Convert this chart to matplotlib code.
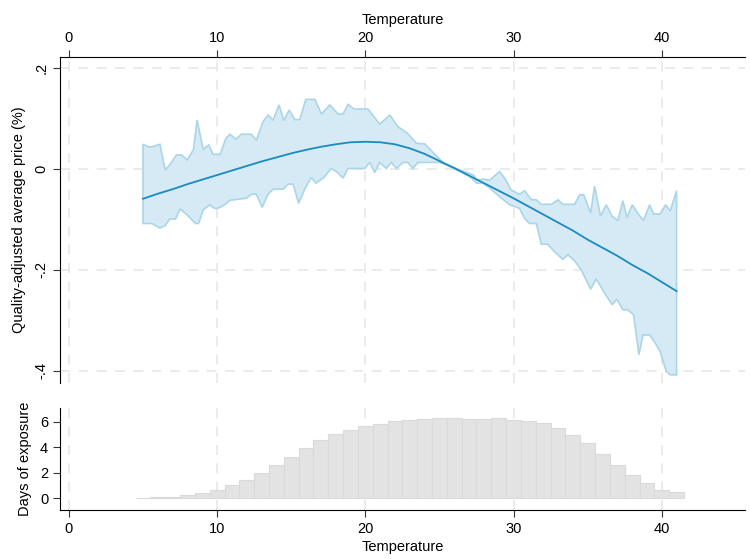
import numpy as np
import matplotlib
matplotlib.use("Agg")
import matplotlib.pyplot as plt

plt.rcParams["font.family"] = ["Liberation Sans", "DejaVu Sans"]

# fitted curve (temperature, price effect)
temp = np.arange(5, 42)
fit = [-0.059, -0.049, -0.040, -0.030, -0.021, -0.012, -0.003, 0.006, 0.015,
       0.023, 0.031, 0.038, 0.044, 0.049, 0.053, 0.054, 0.053, 0.049, 0.041,
       0.030, 0.016, 0.002, -0.013, -0.028, -0.043, -0.058, -0.074, -0.090,
       -0.106, -0.122, -0.140, -0.156, -0.172, -0.190, -0.206, -0.224, -0.242]

# confidence band, upper edge
up_x = [5.0, 5.35, 5.6, 6.14, 6.5, 6.8, 7.26, 7.6, 7.98, 8.4, 8.65, 9.06, 9.44,
        9.73, 10.2, 10.6, 10.86, 11.26, 11.64, 12.3, 12.65, 13.1, 13.44, 13.78,
        14.18, 14.5, 14.86, 15.24, 15.58, 15.98, 16.6, 17.04, 17.6, 18.16, 18.5,
        18.83, 19.24, 20.18, 20.97, 21.65, 22.2, 22.84, 23.45, 24.0, 25.3, 26.2,
        27.04, 27.3, 27.5, 27.94, 28.4, 29.06, 29.4, 29.85, 30.4, 30.75, 31.2,
        31.54, 31.87, 32.55, 33.0, 33.33, 34.12, 34.46, 34.73, 35.2, 35.47,
        35.87, 36.26, 36.66, 37.04, 37.38, 37.65, 38.01, 38.46, 38.77, 39.18,
        39.45, 39.9, 40.26, 40.57, 41.0]
up_y = [0.049, 0.044, 0.044, 0.049, -0.002, 0.008, 0.028, 0.028, 0.018, 0.038,
        0.097, 0.039, 0.048, 0.029, 0.029, 0.061, 0.069, 0.059, 0.069, 0.069,
        0.057, 0.094, 0.107, 0.097, 0.127, 0.096, 0.117, 0.098, 0.098, 0.138,
        0.138, 0.109, 0.127, 0.109, 0.109, 0.128, 0.119, 0.119, 0.089, 0.107,
        0.084, 0.071, 0.051, 0.050, 0.011, 0.000, -0.009, -0.012, -0.022,
        -0.020, -0.022, -0.005, -0.018, -0.042, -0.050, -0.043, -0.061,
        -0.061, -0.070, -0.070, -0.061, -0.070, -0.070, -0.051, -0.051,
        -0.087, -0.034, -0.093, -0.071, -0.094, -0.102, -0.063, -0.096,
        -0.071, -0.091, -0.102, -0.071, -0.089, -0.089, -0.071, -0.083, -0.043]

# confidence band, lower edge
lo_x = [5.0, 5.6, 6.14, 6.5, 6.8, 7.2, 7.5, 7.98, 8.55, 8.75, 9.06, 9.5, 9.83,
        10.05, 10.5, 10.86, 11.98, 12.3, 12.65, 13.04, 13.44, 13.78, 14.46,
        14.8, 15.12, 15.5, 15.98, 16.36, 16.66, 17.2, 17.7, 18.05, 18.5, 18.83,
        19.96, 20.3, 20.63, 20.97, 21.42, 21.76, 22.1, 22.54, 22.88, 23.2,
        23.55, 24.0, 25.0, 25.3, 26.2, 27.04, 27.5, 27.94, 28.4, 29.06, 29.74,
        30.4, 30.75, 31.08, 31.54, 31.87, 32.3, 32.77, 33.33, 33.67, 34.12,
        34.57, 35.2, 35.58, 36.14, 36.66, 36.97, 37.38, 37.7, 38.1, 38.46,
        38.73, 39.18, 39.5, 39.9, 40.3, 40.57, 41.0]
lo_y = [-0.108, -0.108, -0.117, -0.112, -0.099, -0.099, -0.079, -0.091,
        -0.108, -0.108, -0.081, -0.071, -0.078, -0.078, -0.071, -0.062,
        -0.058, -0.050, -0.050, -0.076, -0.050, -0.040, -0.040, -0.030,
        -0.030, -0.068, -0.036, -0.017, -0.028, -0.017, 0.001, -0.005,
        -0.018, 0.001, 0.001, 0.013, -0.007, 0.013, 0.001, 0.013, 0.001,
        0.013, 0.013, 0.001, 0.013, 0.013, 0.013, 0.010, -0.002, -0.015,
        -0.028, -0.028, -0.038, -0.055, -0.071, -0.078, -0.098, -0.108,
        -0.108, -0.149, -0.149, -0.164, -0.179, -0.170, -0.182, -0.200,
        -0.238, -0.218, -0.246, -0.269, -0.258, -0.279, -0.279, -0.289,
        -0.368, -0.329, -0.329, -0.342, -0.362, -0.401, -0.408, -0.408]

# days of exposure per 1-degree bin
bins = np.arange(5, 42)
days = [0.05, 0.10, 0.12, 0.26, 0.41, 0.65, 1.04, 1.43, 1.97, 2.60, 3.27, 3.93,
        4.55, 5.02, 5.33, 5.64, 5.85, 6.03, 6.11, 6.19, 6.26, 6.26, 6.19, 6.19,
        6.26, 6.11, 6.06, 5.93, 5.49, 4.94, 4.32, 3.46, 2.60, 1.82, 1.20, 0.65,
        0.50]

xticks = [0, 10, 20, 30, 40]
yticks_top = [0.2, 0, -0.2, -0.4]
ytick_labels_top = [".2", "0", "-.2", "-.4"]
yticks_bot = [0, 2, 4, 6]

line_col = "#1a8bbf"
band_fill = "#d5eaf4"
band_edge = "#a9d6e8"
grid_col = "#e8e8e8"

fig = plt.figure(figsize=(7.5, 5.59), dpi=100)
ax1 = fig.add_axes([0.08, 0.315, 0.913, 0.583])
ax2 = fig.add_axes([0.08, 0.0877, 0.913, 0.182])

xlim = (-0.6, 45.6)
fs = 10.5

# top panel
for v in xticks:
    ax1.axvline(v, color=grid_col, lw=1.2, ls=(0, (6, 5)), zorder=0)
for v in yticks_top:
    ax1.axhline(v, color=grid_col, lw=1.2, ls=(0, (6, 5)), zorder=0)
px = np.r_[up_x, lo_x[::-1]]
py = np.r_[up_y, lo_y[::-1]]
ax1.fill(px, py, facecolor=band_fill, edgecolor=band_edge, lw=1.2, zorder=1)
ax1.plot(temp, fit, color=line_col, lw=1.3, zorder=2)

ax1.set_xlim(*xlim)
ax1.set_ylim(-0.424, 0.222)
ax1.xaxis.tick_top()
ax1.xaxis.set_label_position("top")
ax1.set_xticks(xticks)
ax1.set_xlabel("Temperature", fontsize=fs, labelpad=5)
ax1.set_yticks(yticks_top)
ax1.set_yticklabels(ytick_labels_top, rotation=90, va="center")
ax1.set_ylabel("Quality-adjusted average price (%)", fontsize=fs, labelpad=6)
for s in ["right", "bottom"]:
    ax1.spines[s].set_visible(False)
ax1.tick_params(labelsize=fs, length=5, width=0.8, color="#333333")

# bottom panel
for v in xticks:
    ax2.axvline(v, color=grid_col, lw=1.2, ls=(0, (6, 5)), zorder=0)
ax2.bar(bins, days, width=1.0, color="#e3e3e3", edgecolor="#dadada", lw=0.8,
        zorder=1)
ax2.set_xlim(*xlim)
ax2.set_ylim(-0.91, 7.05)
ax2.set_xticks(xticks)
ax2.set_yticks(yticks_bot)
ax2.set_xlabel("Temperature", fontsize=fs, labelpad=3)
ax2.set_ylabel("Days of exposure", fontsize=fs, labelpad=6)
for s in ["right", "top"]:
    ax2.spines[s].set_visible(False)
ax2.tick_params(labelsize=fs, length=5, width=0.8, color="#333333")

fig.savefig("out.png", dpi=100)
